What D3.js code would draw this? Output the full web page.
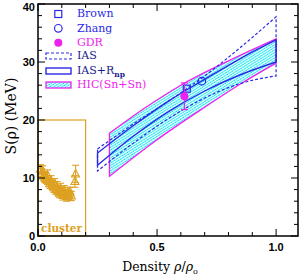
<!DOCTYPE html>
<html>
<head>
<meta charset="utf-8">
<script src="https://cdn.jsdelivr.net/npm/d3@7"></script>
<style>
  html, body { margin: 0; padding: 0; background: #fff; }
  svg { display: block; }
  text { font-family: "DejaVu Serif", serif; }
  .tick-label { font-family: "Liberation Sans", Arial, sans-serif; font-weight: bold; font-size: 11px; }
</style>
</head>
<body>
<div id="chart"></div>
<script>
// data ++++++++++++++++++++++++++++++++++++++++++
// IAS band (dashed), [density, S]
const iasUpper = [[0.25, 15.0], [0.4, 19.3], [0.55, 23.3], [0.7, 27.6], [0.85, 32.5], [1.0, 37.8]];
const iasLower = [[0.25, 11.2], [0.4, 16.0], [0.55, 20.3], [0.7, 23.8], [0.85, 26.3], [1.0, 27.6]];
// IAS+Rnp band (solid)
const rnpUpper = [[0.25, 14.3], [0.4, 19.0], [0.55, 23.3], [0.7, 27.0], [0.85, 30.6], [1.0, 33.8]];
const rnpLower = [[0.25, 12.2], [0.4, 17.2], [0.55, 21.5], [0.7, 25.0], [0.85, 27.8], [1.0, 30.0]];
// HIC(Sn+Sn) band (hatched)
const hicUpper = [[0.3, 17.7], [0.45, 22.1], [0.6, 26.0], [0.8, 30.2], [1.0, 34.0]];
const hicLower = [[0.3, 10.3], [0.5, 16.6], [0.7, 22.2], [0.85, 26.2], [1.0, 29.8]];
// single points
const brownPts = [[0.625, 25.4]];
const zhangPts = [[0.688, 26.7]];
const gdrPts = [[0.615, 24.1, 2.3]];
// cluster points [density, S, err]
const clusterPts = [
  [0.010, 11.5, 0.8], [0.015, 10.8, 0.8], [0.020, 11.2, 0.9], [0.025, 10.3, 0.8],
  [0.030, 10.0, 0.8], [0.035, 9.8, 0.7], [0.040, 10.5, 0.9], [0.045, 9.4, 0.8],
  [0.050, 9.0, 0.8], [0.055, 9.5, 0.9], [0.060, 8.8, 0.8], [0.065, 8.4, 0.8],
  [0.070, 9.0, 0.9], [0.075, 8.0, 0.8], [0.080, 8.5, 0.9], [0.085, 7.8, 0.8],
  [0.090, 7.4, 0.8], [0.095, 8.2, 0.9], [0.100, 7.6, 0.8], [0.105, 7.0, 0.8],
  [0.110, 7.8, 0.9], [0.115, 7.2, 0.8], [0.120, 6.8, 0.8], [0.125, 7.5, 0.9],
  [0.130, 7.0, 0.8], [0.135, 7.6, 0.8], [0.140, 6.9, 0.8], [0.155, 9.4, 1.0],
  [0.158, 10.7, 1.5]
];
const clusterBox = [[0, 0], [0.2, 20]];
const xTicksMajor = [0, 0.5, 1.0];
const xTickLabels = ["0.0", "0.5", "1.0"];
const yTicksMajor = [0, 10, 20, 30, 40];
const legendItems = ["Brown", "Zhang", "GDR", "IAS", "IAS+R", "HIC(Sn+Sn)"];
// data ------------------------------------------

const width = 300, height = 277;
const blue = "#2a2ae6", navy = "#1a1a8a", magenta = "#ee22ee", gold = "#dda020";

const svg = d3.select("#chart").append("svg")
  .attr("width", width).attr("height", height);

const x = d3.scaleLinear().domain([0, 1.092]).range([38, 298]);
const y = d3.scaleLinear().domain([0, 40]).range([236, 4]);

// hatch pattern for HIC band
const defs = svg.append("defs");
const pat = defs.append("pattern")
  .attr("id", "hatch").attr("patternUnits", "userSpaceOnUse")
  .attr("width", 3).attr("height", 2.2)
  .attr("patternTransform", "rotate(-32)");
pat.append("line").attr("x1", 0).attr("y1", 1).attr("x2", 3).attr("y2", 1)
  .attr("stroke", "#00e4f0").attr("stroke-width", 1.1).attr("stroke-dasharray", "1.6,0.6");

const line = d3.line().x(d => x(d[0])).y(d => y(d[1])).curve(d3.curveMonotoneX);
function bandPath(up, lo) {
  // upper left->right, then lower right->left, closed
  const a = line(up);
  const b = line(lo.slice().reverse());
  return a + "L" + b.slice(1) + "Z";
}

// cluster box
svg.append("rect")
  .attr("x", x(clusterBox[0][0])).attr("y", y(clusterBox[1][1]))
  .attr("width", x(clusterBox[1][0]) - x(clusterBox[0][0]))
  .attr("height", y(clusterBox[0][1]) - y(clusterBox[1][1]))
  .attr("fill", "none").attr("stroke", gold).attr("stroke-width", 1.2);

// HIC band
svg.append("path").attr("d", bandPath(hicUpper, hicLower))
  .attr("fill", "url(#hatch)").attr("stroke", magenta).attr("stroke-width", 1.3);

// IAS band dashed
svg.append("path").attr("d", bandPath(iasUpper, iasLower))
  .attr("fill", "none").attr("stroke", blue).attr("stroke-width", 1.2)
  .attr("stroke-dasharray", "3,2");

// IAS+Rnp band solid
svg.append("path").attr("d", bandPath(rnpUpper, rnpLower))
  .attr("fill", "none").attr("stroke", blue).attr("stroke-width", 1.4);

// cluster points
const cl = svg.append("g").attr("stroke", gold).attr("fill", "none").attr("stroke-width", 1.1);
clusterPts.forEach(d => {
  const cx = x(d[0]), cy = y(d[1]);
  const y1 = y(d[1] + d[2]), y2 = y(d[1] - d[2]);
  cl.append("line").attr("x1", cx).attr("x2", cx).attr("y1", y1).attr("y2", y2);
  cl.append("line").attr("x1", cx - 3.5).attr("x2", cx + 3.5).attr("y1", y1).attr("y2", y1);
  cl.append("line").attr("x1", cx - 3.5).attr("x2", cx + 3.5).attr("y1", y2).attr("y2", y2);
  cl.append("path").attr("d", `M${cx},${cy - 4.5}L${cx + 4},${cy + 3}L${cx - 4},${cy + 3}Z`);
});

// Brown, Zhang, GDR
brownPts.forEach(d => {
  svg.append("rect").attr("x", x(d[0]) - 3.5).attr("y", y(d[1]) - 3.5)
    .attr("width", 7).attr("height", 7)
    .attr("fill", "none").attr("stroke", blue).attr("stroke-width", 1.2);
});
zhangPts.forEach(d => {
  svg.append("circle").attr("cx", x(d[0])).attr("cy", y(d[1])).attr("r", 3.8)
    .attr("fill", "none").attr("stroke", blue).attr("stroke-width", 1.2);
});
gdrPts.forEach(d => {
  const cx = x(d[0]);
  const y1 = y(d[1] + d[2]), y2 = y(d[1] - d[2]);
  const g = svg.append("g").attr("stroke", magenta).attr("stroke-width", 1.2);
  g.append("line").attr("x1", cx).attr("x2", cx).attr("y1", y1).attr("y2", y2);
  g.append("line").attr("x1", cx - 3.5).attr("x2", cx + 3.5).attr("y1", y1).attr("y2", y1);
  g.append("line").attr("x1", cx - 3.5).attr("x2", cx + 3.5).attr("y1", y2).attr("y2", y2);
  svg.append("circle").attr("cx", cx).attr("cy", y(d[1])).attr("r", 4).attr("fill", magenta);
});

// axes frame + ticks (inward, all four sides)
const ax = svg.append("g").attr("stroke", "#000").attr("stroke-width", 1);
const x0 = x.range()[0], x1 = x.range()[1], yb = y.range()[0], yt = y.range()[1];
d3.range(0, 1.0001, 0.1).forEach(v => {
  const major = xTicksMajor.some(t => Math.abs(t - v) < 1e-6);
  const len = major ? 7 : 4;
  ax.append("line").attr("x1", x(v)).attr("x2", x(v)).attr("y1", yb).attr("y2", yb - len);
  ax.append("line").attr("x1", x(v)).attr("x2", x(v)).attr("y1", yt).attr("y2", yt + len);
});
d3.range(0, 40.001, 2).forEach(v => {
  const major = v % 10 === 0;
  const len = major ? 7 : 4;
  ax.append("line").attr("x1", x0).attr("x2", x0 + len).attr("y1", y(v)).attr("y2", y(v));
  ax.append("line").attr("x1", x1).attr("x2", x1 - len).attr("y1", y(v)).attr("y2", y(v));
});
svg.append("rect").attr("x", x0).attr("y", yt).attr("width", x1 - x0).attr("height", yb - yt)
  .attr("fill", "none").attr("stroke", "#000").attr("stroke-width", 1.5);

// tick labels
xTicksMajor.forEach((v, i) => {
  svg.append("text").attr("class", "tick-label").attr("x", x(v)).attr("y", 251)
    .attr("text-anchor", "middle").text(xTickLabels[i]);
});
yTicksMajor.forEach(v => {
  svg.append("text").attr("class", "tick-label").attr("x", 35)
    .attr("y", Math.max(y(v) + 4, 10.5))
    .attr("text-anchor", "end").text(v);
});

// axis titles
const xt = svg.append("text").attr("x", 160).attr("y", 271).attr("text-anchor", "middle")
  .attr("font-size", 12.5);
xt.append("tspan").text("Density ");
xt.append("tspan").attr("font-style", "italic").text("ρ");
xt.append("tspan").text("/");
xt.append("tspan").attr("font-style", "italic").text("ρ");
xt.append("tspan").attr("font-size", 8).attr("dy", 3).text("o");

svg.append("text").attr("transform", "translate(16,116) rotate(-90)")
  .attr("text-anchor", "middle").attr("font-size", 14)
  .text("S(ρ)  (MeV)");

// cluster label
svg.append("text").attr("x", 41).attr("y", 231.5).attr("fill", gold)
  .attr("font-size", 10.5).attr("font-weight", "bold").text("cluster");

// legend
const lg = svg.append("g");
const lx = 77, ly = [17.3, 31.7, 45.7, 59.3, 74, 88.3];
const lcol = [blue, blue, magenta, navy, navy, magenta];
lg.append("rect").attr("x", 54.8).attr("y", 10.5).attr("width", 7).attr("height", 7)
  .attr("fill", "none").attr("stroke", blue).attr("stroke-width", 1.2);
lg.append("circle").attr("cx", 58.3).attr("cy", 28.3).attr("r", 3.8)
  .attr("fill", "none").attr("stroke", blue).attr("stroke-width", 1.2);
lg.append("circle").attr("cx", 58.3).attr("cy", 42.7).attr("r", 4).attr("fill", magenta);
lg.append("rect").attr("x", 46).attr("y", 53).attr("width", 25).attr("height", 6)
  .attr("fill", "none").attr("stroke", blue).attr("stroke-width", 1.2).attr("stroke-dasharray", "3,2");
lg.append("rect").attr("x", 46).attr("y", 68).attr("width", 25).attr("height", 6)
  .attr("fill", "none").attr("stroke", blue).attr("stroke-width", 1.4);
lg.append("rect").attr("x", 46).attr("y", 82).attr("width", 25).attr("height", 6)
  .attr("fill", "url(#hatch)").attr("stroke", magenta).attr("stroke-width", 1.3);

legendItems.forEach((t, i) => {
  const tx = lg.append("text").attr("x", lx).attr("y", ly[i]).attr("fill", lcol[i])
    .attr("font-size", 11).text(t);
  if (t === "IAS+R") {
    tx.append("tspan").attr("font-size", 7.5).attr("dy", 2.5).attr("font-weight", "bold").text("np");
  }
});
</script>
</body>
</html>
